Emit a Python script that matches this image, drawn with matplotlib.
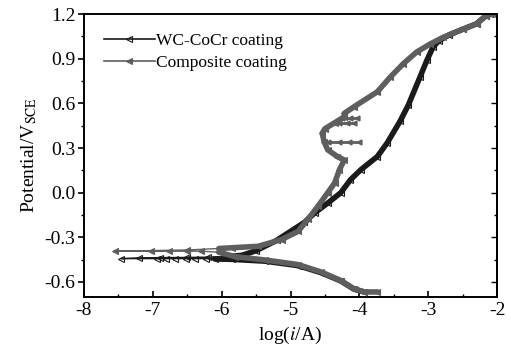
import numpy as np
import matplotlib
matplotlib.use('Agg')
import matplotlib.pyplot as plt
from matplotlib.ticker import MultipleLocator
from matplotlib.lines import Line2D

plt.rcParams['font.family'] = ['Liberation Serif', 'DejaVu Serif']
plt.rcParams['mathtext.fontset'] = 'stix'

# WC-CoCr coating: cathodic branch -> tail -> anodic branch
wc_logi = [-3.93, -4.08, -4.27, -4.56, -4.89, -5.37, -5.85, -6.1,
           -6.23, -6.38, -6.52, -6.67, -6.81, -6.94, -7.46,
           -7.2, -6.9, -6.5, -6.2, -5.9, -5.7, -5.5, -5.2, -5.0, -4.8,
           -4.65, -4.46, -4.27, -4.13, -3.98, -3.74, -3.60, -3.41, -3.29, -3.12,
           -3.02, -2.93, -2.85, -2.70, -2.49, -2.30, -2.16, -2.10]
wc_pot = [-0.667, -0.648, -0.593, -0.537, -0.49, -0.46, -0.448, -0.445,
          -0.443, -0.443, -0.443, -0.443, -0.443, -0.443, -0.443,
          -0.438, -0.436, -0.435, -0.433, -0.43, -0.42, -0.39, -0.32, -0.26, -0.20,
          -0.136, -0.07, 0.0, 0.087, 0.154, 0.243, 0.332, 0.48, 0.589, 0.778,
          0.89, 0.98, 1.02, 1.06, 1.10, 1.135, 1.19, 1.2]

# Composite coating (main path)
comp_logi = [-3.74, -3.93, -4.08, -4.27, -4.56, -4.89, -5.37, -5.8, -6.04,
             -6.3, -6.5, -6.76, -7.03, -7.55,
             -6.5, -6.04, -5.85, -5.47, -5.13, -4.89, -4.75, -4.60, -4.46, -4.36,
             -4.29, -4.22, -4.32, -4.46, -4.51, -4.54, -4.50, -4.36, -4.22,
             -4.22, -4.08, -3.74, -3.55, -3.36, -3.17, -2.97, -2.78, -2.49,
             -2.30, -2.16, -2.08]
comp_pot = [-0.667, -0.667, -0.645, -0.59, -0.532, -0.483, -0.452, -0.43, -0.40,
            -0.393, -0.393, -0.393, -0.393, -0.393,
            -0.385, -0.375, -0.37, -0.36, -0.315, -0.26, -0.18, -0.09, 0.0, 0.065,
            0.154, 0.22, 0.243, 0.288, 0.34, 0.40, 0.43, 0.47,
            0.51, 0.533, 0.577, 0.678, 0.778, 0.868, 0.945, 1.0, 1.045, 1.10,
            1.135, 1.19, 1.2]

# Composite coating: short current spikes in the passive region
spike1_logi = [-4.45, -4.3, -4.15, -4.0]
spike1_pot = [0.343, 0.343, 0.343, 0.343]
spike2_logi = [-4.25, -4.13, -4.03]
spike2_pot = [0.50, 0.50, 0.50]
spike3_logi = [-4.30, -4.18, -4.08]
spike3_pot = [0.47, 0.47, 0.47]

series = [
    ('WC-CoCr coating', wc_logi, wc_pot, '#1a1a1a', 'none'),
    ('Composite coating', comp_logi, comp_pot, '#5e5e5e', '#5e5e5e'),
]
spikes = [(spike1_logi, spike1_pot), (spike2_logi, spike2_pot), (spike3_logi, spike3_pot)]

fig = plt.figure(figsize=(5.11, 3.53), dpi=100)
ax = fig.add_axes([0.164, 0.159, 0.809, 0.801])

handles = []
for label, x, y, color, mfc in series:
    x = np.array(x)
    y = np.array(y)
    ax.plot(x, y, color=color, lw=1, marker='<', ms=4, mfc=mfc, mec=color, mew=0.8)
    # dense measured region drawn as a thick band
    yt = np.where(x > -6.15, y, np.nan)
    ax.plot(x, yt, color=color, lw=4, solid_capstyle='round', solid_joinstyle='round')
    handles.append(Line2D([], [], color=color, lw=1.2, marker='<', ms=4,
                          mfc=mfc, mec=color, mew=0.8, markevery=[1]))

for sx, sy in spikes:
    ax.plot(sx, sy, color='#5e5e5e', lw=2, marker='<', ms=3.5, mfc='#5e5e5e', mec='#5e5e5e')

ax.set_xlim(-8, -2)
ax.set_ylim(-0.7, 1.2)
ax.xaxis.set_minor_locator(MultipleLocator(0.5))
ax.yaxis.set_minor_locator(MultipleLocator(0.15))
ax.set_yticks([-0.6, -0.3, 0.0, 0.3, 0.6, 0.9, 1.2])
ax.set_yticklabels(['-0.6', '-0.3', '0.0', '0.3', '0.6', '0.9', '1.2'])
ax.set_xticks([-8, -7, -6, -5, -4, -3, -2])
ax.set_xticklabels(['-8', '-7', '-6', '-5', '-4', '-3', '-2'])

ax.tick_params(axis='y', which='both', direction='out', left=True, right=False, labelsize=14, pad=2)
ax.tick_params(axis='x', which='both', direction='in', bottom=True, top=False, labelsize=14, pad=4)
ax.tick_params(which='major', length=4, width=1.2)
ax.tick_params(which='minor', length=2.5, width=1.0)
axr = ax.secondary_yaxis('right')
axr.yaxis.set_major_locator(MultipleLocator(0.3))
axr.yaxis.set_minor_locator(MultipleLocator(0.15))
axr.tick_params(which='both', direction='in', labelright=False)
axr.tick_params(which='major', length=4, width=1.0)
axr.tick_params(which='minor', length=2.5, width=1.0)
axr.spines['right'].set_linewidth(1.2)
for s in ax.spines.values():
    s.set_linewidth(1.4)

ax.set_xlabel('log($\\mathit{i}$/A)', fontsize=14, labelpad=4)
ax.set_ylabel('Potential/V$_{\\mathrm{SCE}}$', fontsize=14, labelpad=4)

ax.legend(handles, [s[0] for s in series], loc='upper left', frameon=False,
          fontsize=12.5, handlelength=2.9, handletextpad=0.1, labelspacing=0.3,
          bbox_to_anchor=(0.02, 0.975), borderaxespad=0.3)

fig.savefig('out.png', dpi=100)
